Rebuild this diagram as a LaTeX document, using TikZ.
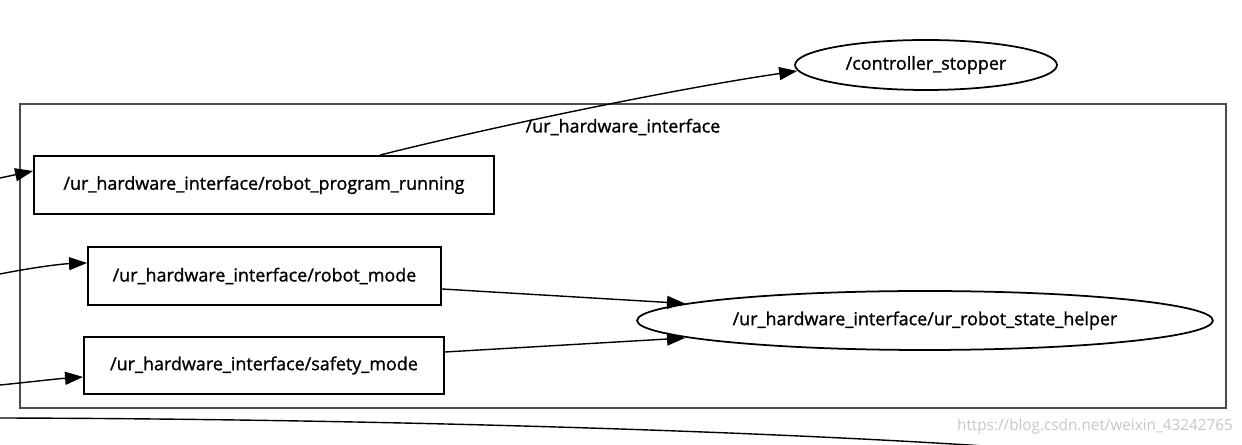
\documentclass[tikz,border=0pt]{standalone}
\usepackage{fontspec}
\setmainfont[FakeBold=0]{Open Sans}
\newfontfamily\graphfont[FakeBold=1.2]{Open Sans}
\usetikzlibrary{arrows.meta,shapes.geometric,calc}
\begin{document}
\begin{tikzpicture}[x=0.02cm,y=-0.02cm,
  topicbox/.style={draw, line width=1.1pt, rectangle, inner sep=0pt, font=\graphfont\fontsize{10.2}{12}\selectfont},
  nodeell/.style={draw, line width=1pt, ellipse, inner sep=0pt, font=\graphfont\fontsize{10.2}{12}\selectfont},
  cluster/.style={draw=black!70, line width=1.1pt},
  edge/.style={line width=0.8pt, -{Triangle[length=0.36cm,width=0.26cm]}},
  freeedge/.style={line width=0.8pt},
  lbl/.style={font=\graphfont\fontsize{10.2}{12}\selectfont, inner sep=0pt},
  wm/.style={font=\fontsize{8.7}{11}\selectfont, text=black!22, inner sep=0pt}]
\useasboundingbox (0,0) rectangle (1242,445);
% cluster
\draw[cluster] (20,104) rectangle (1226,408);
\node[lbl] (clabel) at (623,127) {/ur\_hardware\_interface};
% nodes
\node[topicbox, minimum width=9.2cm, minimum height=1.16cm] (prog) at (264,185) {/ur\_hardware\_interface/robot\_program\_running};
\node[topicbox, minimum width=7.06cm, minimum height=1.16cm] (mode) at (264.5,276) {/ur\_hardware\_interface/robot\_mode};
\node[topicbox, minimum width=7.2cm, minimum height=1.14cm] (safety) at (264,365.5) {/ur\_hardware\_interface/safety\_mode};
\node[nodeell, minimum width=11.52cm, minimum height=1.18cm] (helper) at (925,320.5) {/ur\_hardware\_interface/ur\_robot\_state\_helper};
\node[nodeell, minimum width=5.24cm, minimum height=1.0cm] (stopper) at (926,65) {/controller\_stopper};
% free ends
\coordinate (in1) at (0,178);
\coordinate (in2) at (0,274);
\coordinate (in3) at (0,385);
\coordinate (b1) at (0,418);
\coordinate (b2) at (1000,447);
% edges
\draw[edge] (in1) -- ($(prog.west)+(0,-14)$);
\draw[edge] (in2) .. controls (30,268) and (60,264) .. ($(mode.west)+(0,-13)$);
\draw[edge] (in3) .. controls (30,382) and (55,379) .. ($(safety.west)+(0,11.5)$);
\draw[freeedge] (b1) .. controls (380,419) and (760,431) .. (b2);
\draw[edge] ($(prog.north)+(116,0)$) .. controls (500,125) and (680,88) .. ($(stopper.west)+(3,6)$);
\draw[edge] ($(mode.east)+(0,13)$) -- ($(helper.center)+(-240,-17)$);
\draw[edge] ($(safety.east)+(0,-13.5)$) -- ($(helper.center)+(-240,17.5)$);
% watermark
\node[wm] (wmark) at (1095,427) {https://blog.csdn.net/weixin\_43242765};
\end{tikzpicture}
\end{document}
